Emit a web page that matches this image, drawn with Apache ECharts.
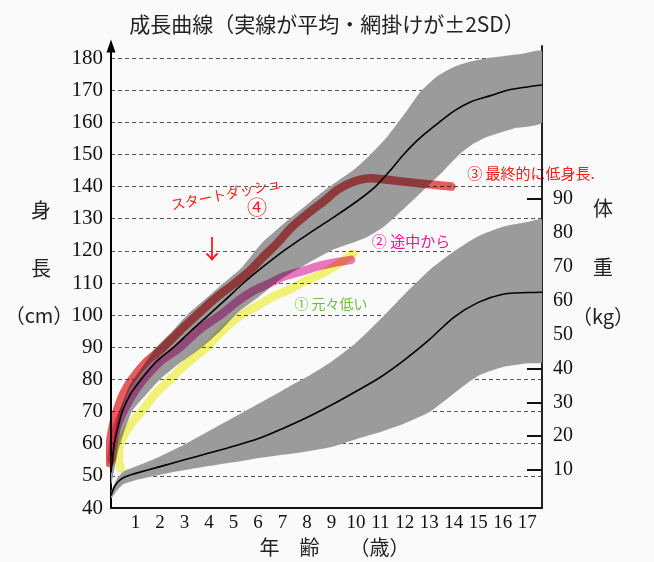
<!DOCTYPE html>
<html><head><meta charset="utf-8">
<script src="https://cdn.jsdelivr.net/npm/echarts@6/dist/echarts.min.js"></script>
<style>html,body{margin:0;padding:0;background:#fafafa}#c{width:654px;height:562px}</style>
</head><body><div id="c"></div>
<script>
// ---- data (age in years, height in cm, weight in kg) ----
const titleText = '成長曲線（実線が平均・網掛けが±2SD）';
const ageTicks = [1,2,3,4,5,6,7,8,9,10,11,12,13,14,15,16,17];
const heightTicks = [40,50,60,70,80,90,100,110,120,130,140,150,160,170,180];
const heightGrid = [50,60,70,80,90,100,110,120,130,140,150,160,170,180];
const weightTicks = [10,20,30,40,50,60,70,80,90];

const heightMean = [[0,51],[0.14,60],[0.3,65.5],[0.46,70],[0.8,75.5],[1.23,80],[1.85,85.5],[2.55,90],[3.25,95],[3.98,100],[4.7,105],[5.41,110],[6.2,115],[7.05,120],[8.0,125],[9.1,130.5],[10.0,135.2],[10.8,140],[11.4,145],[11.95,150],[12.6,155],[13.4,160],[14.0,163.5],[14.7,166.4],[15.5,168.3],[16.2,170],[17.0,171],[17.6,171.6]];
const heightUpper = [[0,54],[0.15,63],[0.35,70],[0.75,78],[1.2,83],[1.85,90],[2.5,95],[3.1,100],[3.85,105],[4.6,110],[5.3,114.5],[6.16,122.4],[7.39,130.6],[8.1,135],[8.75,139],[9.91,145.2],[10.6,150],[11.28,155.5],[12.1,163.8],[12.64,169.5],[13.32,174.3],[14.0,177.2],[14.68,178.9],[15.4,180],[16.05,180.6],[16.8,181.3],[17.6,182]];
const heightLower = [[0,47],[0.3,58],[0.85,70],[1.4,75],[2.0,80],[2.8,85],[3.71,90],[4.45,95],[5.2,101],[6.0,105.5],[6.9,111],[8.0,116],[9.1,120.5],[9.77,122.3],[10.5,124.5],[11.14,127.5],[11.8,132],[12.5,137],[13.46,144],[14.27,150.3],[14.8,153.3],[15.37,155.5],[16.45,158.1],[17.6,160]];

const weightMean = [[0,2.5],[0.15,5.2],[0.3,6.6],[0.5,7.7],[0.78,8.5],[1,9],[2,11],[3,13],[4,15],[5,17],[6,19.2],[7,22.2],[8,25.5],[9,29.2],[10,33.2],[11,37.4],[12,42.6],[13,48.5],[14,55.1],[15,59.5],[16,61.9],[17,62.4],[17.6,62.5]];
const weightUpper = [[0,3.5],[0.25,7.5],[0.5,9.5],[1,11],[2,14],[3,17.5],[4,21.5],[5,25.5],[6,29.5],[7,33.5],[8,37.5],[9,42],[10,47.5],[11,54.5],[12,62],[13,69],[14,74.5],[15,79],[16,81.8],[17,83.2],[17.6,83.8]];
const weightLower = [[0,1.5],[0.25,4],[0.5,5.8],[1,7],[2,8.6],[3,10],[4,11.2],[5,12.3],[6,13.5],[7,14.5],[8,15.5],[9,16.8],[10,19.1],[11,21.2],[12,23.8],[13,27.1],[14,32.6],[15,37.8],[16,40.4],[17,41.5],[17.6,42]];

// hand-drawn child curves (height, cm)
const childStartDash = [[-0.06,54],[-0.04,60],[0.05,64.5],[0.23,70],[0.5,75.5],[0.85,80],[1.45,85.5],[2.14,90],[2.8,95],[3.5,100],[4.3,105.5],[5.07,110],[5.7,114],[6.2,118],[6.8,122.5],[7.4,127.5],[8.1,132],[8.75,135.8],[9.25,139],[9.9,141.5],[10.6,142.6],[11.3,142.1],[12.6,141],[13.9,140]];
const childMidway = [[0.02,55],[0.1,60],[0.25,65.5],[0.5,70],[0.9,75.5],[1.32,80],[2.0,85.5],[2.82,90],[3.6,95.5],[4.46,100],[5.2,104.5],[5.8,107.5],[6.5,110],[7.05,112],[7.95,114],[8.5,115.3],[9.1,116.3],[9.8,117.2]];
const childAlwaysLow = [[0.4,52.3],[0.32,55],[0.33,58],[0.37,60],[0.6,63.5],[0.9,67],[1.25,70],[1.8,75.5],[2.41,80],[3.1,85],[3.9,90],[4.6,95.5],[5.3,100],[6.0,103],[6.6,105.7],[7.3,108],[7.9,110.5],[8.5,112.5],[9.2,115.5],[9.9,119.2]];

// ---- styling ----
const SERIF = '"Liberation Serif","DejaVu Serif",serif';
const CJK = '"Noto Sans CJK JP","Noto Sans CJK SC",sans-serif';
const BAND = '#9b9b9b';

function bandItem(upper, lower) {
  return function (params, api) {
    const pts = [];
    upper.forEach(p => pts.push(api.coord(p)));
    for (let i = lower.length - 1; i >= 0; i--) pts.push(api.coord(lower[i]));
    return { type: 'polygon', shape: { points: pts, smooth: 0.2 }, style: { fill: BAND } };
  };
}
function thick(name, data, color) {
  return { type: 'line', name, data, xAxisIndex: 0, yAxisIndex: 0, showSymbol: false, symbol: 'none', smooth: 0.3,
    clip: false, blendMode: 'multiply', silent: true,
    lineStyle: { color, width: 8.5, cap: 'round', join: 'round' } };
}
function thin(name, data, yIdx) {
  return { type: 'line', name, data, xAxisIndex: 0, yAxisIndex: yIdx, showSymbol: false, symbol: 'none', smooth: 0.3,
    silent: true, lineStyle: { color: '#000', width: 1.6 } };
}
function txt(text, x, y, size, color, extra) {
  return Object.assign({ type: 'text', x, y, silent: true,
    style: { text, font: size + 'px ' + CJK, fill: color, align: 'center', verticalAlign: 'middle' } }, extra || {});
}

const chart = echarts.init(document.getElementById('c'), null, { renderer: 'canvas' });
chart.setOption({
  backgroundColor: '#fafafa',
  animation: false,
  title: { text: titleText, left: 'center', top: 9,
    textStyle: { fontFamily: CJK, fontSize: 21, fontWeight: 'normal', color: '#222' } },
  grid: { left: 111, right: 112, top: 46, bottom: 54, outerBoundsMode: 'none' },
  xAxis: { type: 'value', min: 0, max: 17.6,
    name: '年　齢　　（歳）', nameLocation: 'middle', nameGap: 27,
    nameTextStyle: { fontFamily: CJK, fontSize: 20, color: '#222', padding: [0, 0, 0, 16] },
    axisLine: { onZero: false, lineStyle: { color: '#111', width: 2 } },
    axisTick: { show: false }, splitLine: { show: false },
    axisLabel: { customValues: ageTicks, fontFamily: SERIF, fontSize: 19, color: '#111', margin: 6 } },
  yAxis: [
    { type: 'value', position: 'left', min: 40, max: 183.74,
      axisLine: { show: true, onZero: false, symbol: ['none', 'triangle'], symbolSize: [9, 13], lineStyle: { color: '#000', width: 2 } },
      axisTick: { show: false, customValues: heightGrid },
      axisLabel: { customValues: heightTicks, fontFamily: SERIF, fontSize: 21, color: '#111', margin: 8 },
      splitLine: { show: true, lineStyle: { type: [4, 3], color: '#555', width: 1 } } },
    { type: 'value', position: 'right', min: -1.22, max: 135.2,
      axisLine: { show: true, onZero: false, lineStyle: { color: '#222', width: 2 } },
      axisTick: { show: true, inside: true, length: 15, customValues: weightTicks, lineStyle: { color: '#111', width: 2 } },
      axisLabel: { customValues: weightTicks, fontFamily: SERIF, fontSize: 20, color: '#111', margin: 11 },
      splitLine: { show: false } }
  ],
  series: [
    { type: 'custom', name: 'heightBand', xAxisIndex: 0, yAxisIndex: 0, clip: true, silent: true,
      renderItem: bandItem(heightUpper, heightLower), data: [[0, 100]] },
    { type: 'custom', name: 'weightBand', xAxisIndex: 0, yAxisIndex: 1, clip: true, silent: true,
      renderItem: bandItem(weightUpper, weightLower), data: [[0, 10]] },
    thick('スタートダッシュ', childStartDash, '#ea5e60'),
    thick('途中から', childMidway, '#ee78c4'),
    thick('元々低い', childAlwaysLow, '#f6f67a'),
    thin('身長平均', heightMean, 0),
    thin('体重平均', weightMean, 1)
  ],
  graphic: [
    txt('身', 41, 210, 20, '#222'),
    txt('長', 41, 268, 20, '#222'),
    txt('（cm）', 39, 315, 20, '#222'),
    txt('体', 603, 208, 20, '#222'),
    txt('重', 603, 267, 20, '#222'),
    txt('（kg）', 603, 316, 20, '#222'),
    txt('スタートダッシュ', 226, 194, 14, '#ff1a1a', { rotation: 0.2 }),
    txt('④', 257, 207, 20, '#ff1a1a'),
    txt('↓', 212, 249, 26, '#ff1a1a'),
    txt('② 途中から', 411, 241, 15, '#f0189a'),
    txt('① 元々低い', 331, 304, 14, '#6cbf3c'),
    txt('③ 最終的に低身長.', 531, 173, 15, '#ff1a1a')
  ]
});
</script></body></html>
